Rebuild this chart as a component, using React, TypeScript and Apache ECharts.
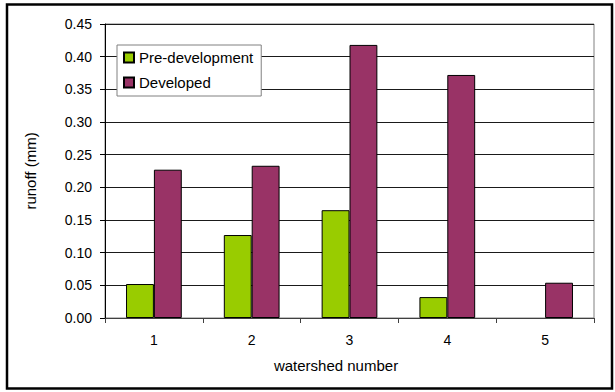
import React, { useEffect, useRef } from "react";
import * as echarts from "echarts";

const categories = ["1", "2", "3", "4", "5"];
const preDevelopment = [0.052, 0.127, 0.165, 0.032, 0];
const developed = [0.227, 0.233, 0.418, 0.372, 0.054];
const seriesNames = ["Pre-development", "Developed"];
const yTicks = { min: 0, max: 0.45, interval: 0.05 };

const FONT = "'Liberation Sans', Arial, sans-serif";

const toBarData = (vals: number[]) =>
  vals.map((v) => ({ value: v, itemStyle: v === 0 ? { borderWidth: 0 } : {} }));

export default function App() {
  const ref = useRef<HTMLDivElement>(null);
  useEffect(() => {
    if (!ref.current) return;
    const chart = echarts.init(ref.current, undefined, { renderer: "svg" });
    chart.setOption({
      animation: false,
      backgroundColor: "#ffffff",
      textStyle: { fontFamily: FONT, color: "#000" },
      grid: {
        left: 105,
        top: 24,
        right: 21,
        bottom: 74,
        show: true,
        borderColor: "#808080",
        borderWidth: 1,
      },
      legend: {
        orient: "vertical",
        left: 117,
        top: 45,
        backgroundColor: "#ffffff",
        borderColor: "#808080",
        borderWidth: 1,
        padding: [5, 8, 6, 6],
        itemWidth: 10,
        itemHeight: 10,
        itemGap: 10,
        icon: "rect",
        textStyle: { fontFamily: FONT, fontSize: 15, color: "#000" },
        data: seriesNames,
      },
      xAxis: {
        type: "category",
        data: categories,
        name: "watershed number",
        nameLocation: "middle",
        nameGap: 40,
        nameTextStyle: { fontFamily: FONT, fontSize: 15, color: "#000", padding: [0, 27, 0, 0] },
        axisLine: { lineStyle: { color: "#404040", width: 1 } },
        axisTick: { show: true, length: 5, lineStyle: { color: "#404040" } },
        axisLabel: { fontFamily: FONT, fontSize: 14, color: "#000", margin: 15 },
      },
      yAxis: {
        type: "value",
        min: yTicks.min,
        max: yTicks.max,
        interval: yTicks.interval,
        name: "runoff (mm)",
        nameLocation: "middle",
        nameGap: 67,
        nameTextStyle: { fontFamily: FONT, fontSize: 15, color: "#000" },
        axisLine: { show: true, lineStyle: { color: "#000", width: 1 } },
        axisTick: { show: true, length: 5, lineStyle: { color: "#000" } },
        axisLabel: {
          fontFamily: FONT,
          fontSize: 14,
          color: "#000",
          margin: 13,
          formatter: (v: number) => v.toFixed(2),
        },
        splitLine: { show: true, lineStyle: { color: "#1a1a1a", width: 1 } },
      },
      series: [
        {
          name: seriesNames[0],
          type: "bar",
          data: toBarData(preDevelopment),
          barGap: "0%",
          barCategoryGap: "43%",
          itemStyle: { color: "#99CC00", borderColor: "#000", borderWidth: 1 },
        },
        {
          name: seriesNames[1],
          type: "bar",
          data: toBarData(developed),
          barGap: "0%",
          barCategoryGap: "43%",
          itemStyle: { color: "#993366", borderColor: "#000", borderWidth: 1 },
        },
      ],
      graphic: [
        {
          type: "rect",
          silent: true,
          shape: { x: 7, y: 4.5, width: 605, height: 384 },
          style: { fill: "none", stroke: "#000", lineWidth: 2.5 },
          z: 100,
        },
      ],
    });
    return () => chart.dispose();
  }, []);
  return (
    <div
      ref={ref}
      style={{ position: "fixed", left: 0, top: 0, width: 615, height: 392 }}
    />
  );
}
